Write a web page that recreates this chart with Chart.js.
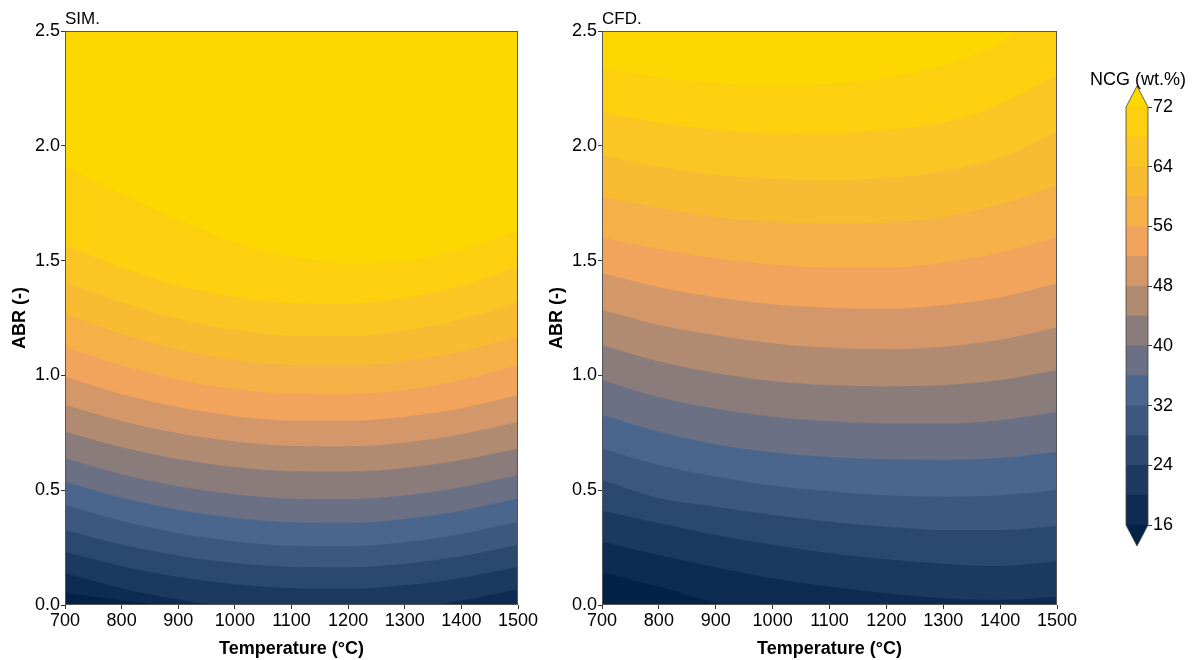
<!DOCTYPE html>
<html>
<head>
<meta charset="utf-8">
<script src="https://cdn.jsdelivr.net/npm/chart.js@4.4.1/dist/chart.umd.min.js"></script>
<style>
  body { margin: 0; background: #fff; width: 1194px; height: 660px; position: relative; overflow: hidden; }
  .box { position: absolute; top: 0; height: 660px; }
</style>
</head>
<body>
<div class="box" style="left:0;width:540px"><canvas id="sim"></canvas></div>
<div class="box" style="left:537px;width:543px"><canvas id="cfd"></canvas></div>
<div class="box" style="left:1080px;width:114px"><canvas id="bar"></canvas></div>
<script>
const temps = [700, 800, 900, 1000, 1100, 1200, 1300, 1400, 1500];
// NCG contour levels (wt.%)
const levels = [16, 20, 24, 28, 32, 36, 40, 44, 48, 52, 56, 60, 64, 68, 72];
const xTicks = [700, 800, 900, 1000, 1100, 1200, 1300, 1400, 1500];
const yTicks = [0, 0.5, 1.0, 1.5, 2.0, 2.5];
const barTicks = [16, 24, 32, 40, 48, 56, 64, 72];

// ABR where NCG equals each level, one row per level (16 .. 72)
const simABR = [
  [0.052, 0.020, -0.010, -0.040, -0.060, -0.060, -0.050, -0.035, -0.020],
  [0.138, 0.073, 0.024, -0.010, -0.027, -0.029, -0.013, 0.020, 0.070],
  [0.232, 0.169, 0.122, 0.090, 0.073, 0.071, 0.086, 0.118, 0.167],
  [0.327, 0.263, 0.215, 0.183, 0.166, 0.164, 0.180, 0.212, 0.261],
  [0.436, 0.366, 0.313, 0.277, 0.258, 0.256, 0.273, 0.309, 0.363],
  [0.537, 0.467, 0.415, 0.379, 0.360, 0.358, 0.375, 0.411, 0.465],
  [0.639, 0.570, 0.517, 0.482, 0.463, 0.461, 0.478, 0.513, 0.566],
  [0.755, 0.687, 0.636, 0.601, 0.583, 0.581, 0.597, 0.631, 0.682],
  [0.871, 0.801, 0.748, 0.712, 0.693, 0.691, 0.708, 0.744, 0.798],
  [0.994, 0.919, 0.862, 0.823, 0.803, 0.802, 0.820, 0.857, 0.915],
  [1.125, 1.044, 0.982, 0.940, 0.919, 0.917, 0.937, 0.980, 1.045],
  [1.270, 1.181, 1.113, 1.068, 1.044, 1.042, 1.062, 1.104, 1.169],
  [1.410, 1.317, 1.247, 1.199, 1.174, 1.172, 1.196, 1.245, 1.321],
  [1.570, 1.469, 1.393, 1.341, 1.314, 1.312, 1.338, 1.391, 1.473],
  [1.910, 1.790, 1.680, 1.580, 1.520, 1.490, 1.500, 1.550, 1.630],
];

const cfdABR = [
  [0.145, 0.080, 0.010, -0.040, -0.080, -0.100, -0.115, -0.120, -0.110],
  [0.276, 0.218, 0.164, 0.116, 0.080, 0.051, 0.029, 0.022, 0.036],
  [0.411, 0.356, 0.305, 0.262, 0.225, 0.199, 0.179, 0.170, 0.189],
  [0.544, 0.465, 0.428, 0.392, 0.363, 0.341, 0.327, 0.327, 0.344],
  [0.682, 0.610, 0.560, 0.520, 0.495, 0.478, 0.472, 0.478, 0.501],
  [0.828, 0.755, 0.700, 0.665, 0.645, 0.635, 0.632, 0.640, 0.668],
  [0.980, 0.905, 0.855, 0.820, 0.800, 0.790, 0.790, 0.805, 0.842],
  [1.132, 1.060, 1.010, 0.975, 0.958, 0.952, 0.958, 0.980, 1.024],
  [1.285, 1.220, 1.175, 1.140, 1.120, 1.115, 1.125, 1.155, 1.210],
  [1.445, 1.385, 1.340, 1.310, 1.295, 1.290, 1.305, 1.340, 1.401],
  [1.604, 1.550, 1.510, 1.482, 1.470, 1.470, 1.490, 1.535, 1.604],
  [1.778, 1.730, 1.690, 1.668, 1.660, 1.665, 1.690, 1.745, 1.829],
  [1.960, 1.910, 1.875, 1.855, 1.850, 1.860, 1.890, 1.950, 2.062],
  [2.147, 2.100, 2.070, 2.056, 2.055, 2.070, 2.100, 2.180, 2.310],
  [2.340, 2.300, 2.275, 2.260, 2.270, 2.300, 2.350, 2.450, 2.620],
];

// below 16, the 14 bands, above 72
const bandColors = ['#022248', '#0e2c53', '#1c3960', '#2b486e', '#3c587e', '#4b668c', '#6b7084',
  '#8a7c7a', '#b08a71', '#d4976a', '#f2a45c', '#f6b048', '#f9bb32', '#fbc623', '#fcd00e', '#fdd700'];

Chart.defaults.font.family = "'Liberation Sans', Arial, sans-serif";
Chart.defaults.color = '#000';

// fill plot area with the "over" colour, frame it, write the panel name
const panelDeco = {
  id: 'panelDeco',
  beforeDatasetsDraw(chart, args, opts) {
    const a = chart.chartArea, ctx = chart.ctx;
    ctx.save();
    ctx.fillStyle = bandColors[bandColors.length - 1];
    ctx.fillRect(a.left, a.top, a.right - a.left, a.bottom - a.top);
    ctx.restore();
  },
  afterDatasetsDraw(chart, args, opts) {
    const a = chart.chartArea, ctx = chart.ctx;
    ctx.save();
    ctx.strokeStyle = '#555';
    ctx.lineWidth = 1;
    ctx.strokeRect(a.left + 0.5, a.top + 0.5, a.right - a.left - 1, a.bottom - a.top - 1);
    ctx.fillStyle = '#000';
    ctx.font = "17px 'Liberation Sans', Arial, sans-serif";
    ctx.textAlign = 'left';
    ctx.textBaseline = 'bottom';
    ctx.fillText(opts.text, a.left, a.top - 3);
    ctx.restore();
  }
};

function contourSets(rows) {
  return rows.map((row, i) => ({
    data: temps.map((t, j) => ({ x: t, y: row[j] })),
    backgroundColor: bandColors[i],
    borderWidth: 0,
    pointRadius: 0,
    fill: 'start',
    cubicInterpolationMode: 'monotone'
  }));
}

function panelOptions(title, padRight) {
  return {
    responsive: true,
    maintainAspectRatio: false,
    animation: false,
    layout: { padding: { top: 31, right: padRight, bottom: 0, left: 0 } },
    plugins: { legend: { display: false }, tooltip: { enabled: false }, panelDeco: { text: title } },
    scales: {
      x: {
        type: 'linear', min: 700, max: 1500,
        afterBuildTicks: s => { s.ticks = xTicks.map(v => ({ value: v })); },
        ticks: { font: { size: 18 }, padding: 1, maxRotation: 0, autoSkip: false, callback: v => String(v) },
        grid: { drawOnChartArea: false, tickLength: 4, color: '#333' },
        border: { display: false },
        title: { display: true, text: 'Temperature (°C)', font: { size: 18, weight: 'bold' }, padding: { top: 0, bottom: 0 } },
        afterFit: s => { s.height = 55; }
      },
      y: {
        min: 0, max: 2.5,
        afterBuildTicks: s => { s.ticks = yTicks.map(v => ({ value: v })); },
        ticks: { font: { size: 18 }, padding: 1, callback: v => v.toFixed(1) },
        grid: { drawOnChartArea: false, tickLength: 4, color: '#333' },
        border: { display: false },
        title: { display: true, text: 'ABR (-)', font: { size: 18, weight: 'bold' }, padding: { top: 9, bottom: 0 } },
        afterFit: s => { s.width = 65; }
      }
    }
  };
}

new Chart(document.getElementById('sim'), {
  type: 'line',
  data: { datasets: contourSets(simABR) },
  options: panelOptions('SIM.', 22),
  plugins: [panelDeco]
});

new Chart(document.getElementById('cfd'), {
  type: 'line',
  data: { datasets: contourSets(cfdABR) },
  options: panelOptions('CFD.', 23),
  plugins: [panelDeco]
});

// colour bar with triangular extensions
const barDeco = {
  id: 'barDeco',
  afterDatasetsDraw(chart) {
    const a = chart.chartArea, ctx = chart.ctx;
    const mid = (a.left + a.right) / 2, ext = 21;
    ctx.save();
    ctx.fillStyle = bandColors[bandColors.length - 1];
    ctx.beginPath();
    ctx.moveTo(a.left, a.top); ctx.lineTo(mid, a.top - ext); ctx.lineTo(a.right, a.top);
    ctx.closePath(); ctx.fill();
    ctx.fillStyle = bandColors[0];
    ctx.beginPath();
    ctx.moveTo(a.left, a.bottom); ctx.lineTo(mid, a.bottom + ext); ctx.lineTo(a.right, a.bottom);
    ctx.closePath(); ctx.fill();
    ctx.strokeStyle = '#444';
    ctx.lineWidth = 0.8;
    ctx.beginPath();
    ctx.moveTo(a.left, a.top); ctx.lineTo(mid, a.top - ext); ctx.lineTo(a.right, a.top);
    ctx.lineTo(a.right, a.bottom); ctx.lineTo(mid, a.bottom + ext); ctx.lineTo(a.left, a.bottom);
    ctx.closePath(); ctx.stroke();
    ctx.fillStyle = '#000';
    ctx.font = "18px 'Liberation Sans', Arial, sans-serif";
    ctx.textAlign = 'center';
    ctx.textBaseline = 'middle';
    ctx.fillText('NCG (wt.%)', mid + 1, a.top - 27);
    ctx.restore();
  }
};

new Chart(document.getElementById('bar'), {
  type: 'bar',
  data: {
    labels: [''],
    datasets: levels.slice(0, -1).map((lo, i) => ({
      data: [[lo, levels[i + 1]]],
      backgroundColor: bandColors[i + 1],
      borderWidth: 0,
      barPercentage: 1,
      categoryPercentage: 1,
      grouped: false
    }))
  },
  options: {
    responsive: true,
    maintainAspectRatio: false,
    animation: false,
    layout: { padding: { top: 107, right: 0, bottom: 135, left: 46 } },
    plugins: { legend: { display: false }, tooltip: { enabled: false } },
    scales: {
      x: { display: false },
      y: {
        position: 'right', min: 16, max: 72,
        afterBuildTicks: s => { s.ticks = barTicks.map(v => ({ value: v })); },
        ticks: { font: { size: 18 }, padding: 1 },
        grid: { drawOnChartArea: false, tickLength: 4, color: '#333' },
        border: { display: false },
        afterFit: s => { s.width = 46; }
      }
    }
  },
  plugins: [barDeco]
});
</script>
</body>
</html>
